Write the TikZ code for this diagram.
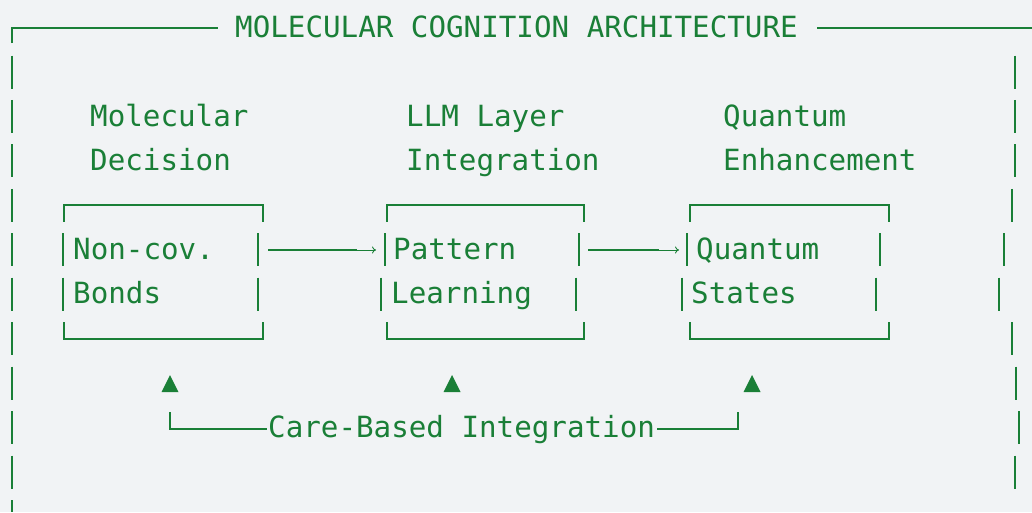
\documentclass[tikz,border=0pt]{standalone}
\usepackage{fontspec}
\usepackage{xcolor}
\definecolor{termGreen}{RGB}{26,127,55}
\definecolor{termBg}{RGB}{241,243,245}
\newfontfamily\termfont{DejaVu Sans Mono}
\usetikzlibrary{arrows.meta}

\begin{document}
\begin{tikzpicture}[x=1pt, y=-1pt,
  every node/.style={inner sep=0pt, anchor=base west, text=termGreen,
    font=\termfont\fontsize{29.2}{35}\selectfont},
  frame/.style={termGreen, line width=2pt},
  boxline/.style={termGreen, line width=1.8pt},
  tip/.style={termGreen, line width=0.9pt, -{To[length=4pt, width=7pt]}},
  box/.style={anchor=center, minimum width=199pt, minimum height=133pt}]
  \fill[termBg] (0,0) rectangle (1032,512);
  \useasboundingbox (0,0) rectangle (1032,512);

  % outer frame
  \node (title) at (235,37) {MOLECULAR COGNITION ARCHITECTURE};
  \draw[boxline] (12,43) |- (218,28);
  \draw[boxline] (817,28) -- (1032,28);
  \foreach \y in {72,116.4,160.9,205.3,249.8,294.2,338.7,383.1,427.6,472}
    \draw[frame] (12,\y-16.5) -- (12,\y+16.5);
  \draw[frame] (12,500) -- (12,512);
  \foreach \y/\x in {72/1015,116.4/1015,160.9/1015,205.3/1012,249.8/1004,
                     294.2/999,338.7/1012,383.1/1016,427.6/1019,472/1015}
    \draw[frame] (\x,\y-16.5) -- (\x,\y+16.5);

  % column headings
  \node (molA) at (90,126) {Molecular};
  \node (molB) at (90,170.4) {Decision};
  \node (llmA) at (406,126) {LLM Layer};
  \node (llmB) at (406,170.4) {Integration};
  \node (qA) at (723,126) {Quantum};
  \node (qB) at (723,170.4) {Enhancement};

  % boxes
  \node[box] (bonds) at (163.5,272) {};
  \node[box, minimum width=197pt] (learn) at (485.5,272) {};
  \node[box] (states) at (789.5,272) {};
  \foreach \b in {bonds,learn,states} {
    \draw[boxline] ([yshift=-16.5pt]\b.north west) -- (\b.north west)
      -- (\b.north east) -- ([yshift=-16.5pt]\b.north east);
    \draw[boxline] ([yshift=16.5pt]\b.south west) -- (\b.south west)
      -- (\b.south east) -- ([yshift=16.5pt]\b.south east);
  }
  \foreach \x in {63,258,385,579,687,880}
    \draw[boxline] (\x,233.3) -- (\x,266.3);
  \foreach \x in {63,258,381,576,682,876}
    \draw[boxline] (\x,277.7) -- (\x,310.7);

  \node (bondsA) at (73,259.3) {Non-cov.};
  \node (bondsB) at (73,303.7) {Bonds};
  \node (learnA) at (393,259.3) {Pattern};
  \node (learnB) at (391,303.7) {Learning};
  \node (statesA) at (696,259.3) {Quantum};
  \node (statesB) at (691,303.7) {States};

  % arrows between boxes
  \coordinate (a1) at (268,250);
  \coordinate (a1m) at (357,250);
  \coordinate (a1e) at (376,250);
  \coordinate (a2) at (588,250);
  \coordinate (a2m) at (659,250);
  \coordinate (a2e) at (679,250);
  \draw[boxline] (a1) -- (a1m);
  \draw[tip] (a1m) -- (a1e);
  \draw[boxline] (a2) -- (a2m);
  \draw[tip] (a2m) -- (a2e);

  % care feedback
  \foreach \x in {170,452,752}
    \fill[termGreen] (\x-8.5,392) -- (\x,375) -- (\x+8.5,392) -- cycle;
  \node (care) at (268,437.1) {Care-Based Integration};
  \coordinate (cl) at (170,412);
  \coordinate (cr) at (738,412);
  \draw[boxline] (cl) |- ([xshift=-1pt]care.west);
  \draw[boxline] ([xshift=2pt]care.east) -| (cr);

\end{tikzpicture}
\end{document}
